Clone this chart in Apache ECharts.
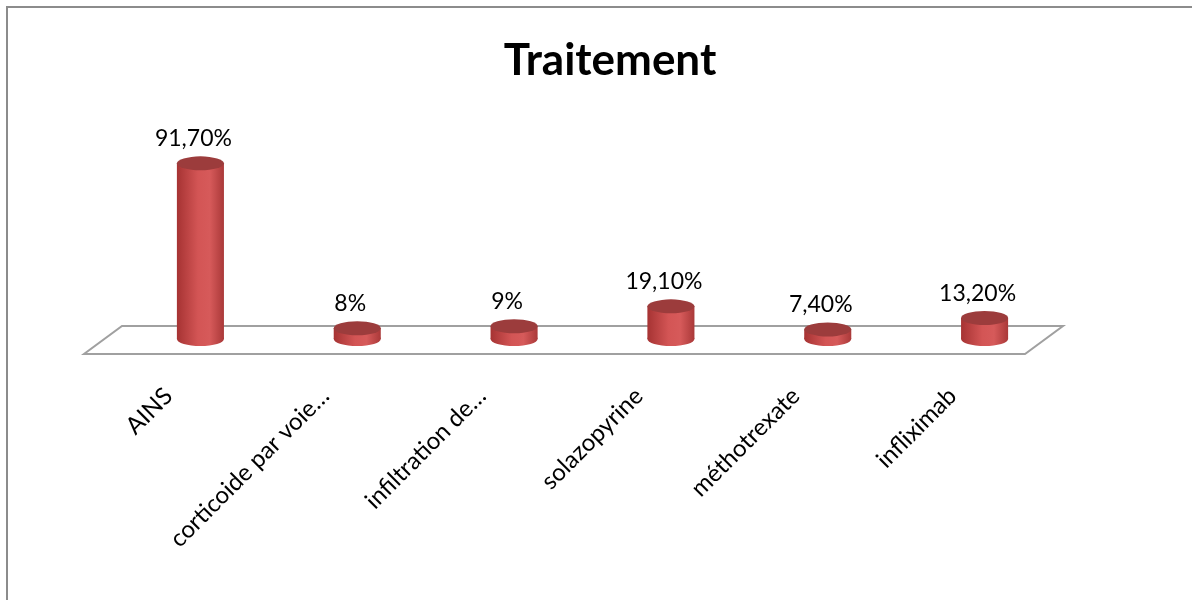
<!DOCTYPE html>
<html>
<head>
<meta charset="utf-8">
<script src="https://cdn.jsdelivr.net/npm/echarts@6/dist/echarts.min.js"></script>
<style>
  html, body { margin: 0; padding: 0; background: #ffffff; overflow: hidden; }
  #chart { width: 1192px; height: 600px; }
</style>
</head>
<body>
<div id="chart"></div>
<script>
// Treatments and share of patients (%)
const categories = ['AINS', 'corticoide par voie…', 'infiltration de…', 'solazopyrine', 'méthotrexate', 'infliximab'];
const values = [91.7, 8, 9, 19.1, 7.4, 13.2];
const titleText = 'Traitement';

const FONT = 'Lato, "Liberation Sans", sans-serif';

// Percent label in French notation: whole numbers plain, others with two decimals
function fmt(v) {
  return Number.isInteger(v) ? v + '%' : v.toFixed(2).replace('.', ',') + '%';
}

// Depth of the pseudo-3D floor, in pixels
const FLOOR_BACK = 18;   // back edge above the zero line
const FLOOR_FRONT = 10;  // front edge below the zero line
const FLOOR_SHIFT = 38;  // front edge shifted left
const BASE_LIFT = 5;     // cylinder base centre above the zero line

const chart = echarts.init(document.getElementById('chart'), null, { renderer: 'canvas' });

const bodyGradient = new echarts.graphic.LinearGradient(0, 0, 1, 0, [
  { offset: 0, color: '#a63333' },
  { offset: 0.45, color: '#d35555' },
  { offset: 0.7, color: '#d65a5a' },
  { offset: 1, color: '#aa3939' }
]);

function ellipse(cx, cy, rx, ry, fill, z2) {
  return {
    type: 'circle',
    x: cx, y: cy, scaleY: ry / rx,
    shape: { cx: 0, cy: 0, r: rx },
    style: { fill: fill },
    z2: z2
  };
}

const option = {
  backgroundColor: '#ffffff',
  animation: false,
  title: {
    text: titleText,
    left: 605,
    textAlign: 'center',
    top: 34,
    textStyle: { fontFamily: FONT, fontWeight: 'bold', fontSize: 44, color: '#000000' }
  },
  graphic: [{
    // chart-area frame: left and top edges
    type: 'polyline',
    shape: { points: [[7, 600], [7, 7], [1192, 7]] },
    style: { fill: null, stroke: '#8c8c8c', lineWidth: 2 },
    silent: true
  }],
  grid: [
    { left: 122, right: 129, top: 147, bottom: 256 },
    { left: 90, right: 161, top: 147, bottom: 246 }
  ],
  xAxis: [
    {
      type: 'category', data: categories, gridIndex: 0,
      axisLine: { show: false }, axisTick: { show: false }, axisLabel: { show: false }
    },
    {
      type: 'category', data: categories, gridIndex: 1,
      axisLine: { show: false }, axisTick: { show: false },
      axisLabel: {
        rotate: 45, margin: 38, interval: 0,
        fontFamily: FONT, fontSize: 24, color: '#000000'
      }
    }
  ],
  yAxis: [
    { type: 'value', min: 0, max: 100, gridIndex: 0, show: false },
    { type: 'value', min: 0, max: 100, gridIndex: 1, show: false }
  ],
  series: [
    {
      // floor of the 3D plot area
      type: 'custom',
      xAxisIndex: 0, yAxisIndex: 0,
      data: [[0, 0]],
      z: 1,
      silent: true,
      renderItem: function (params, api) {
        const band = api.size([1, 0])[0];
        const first = api.coord([0, 0]);
        const last = api.coord([categories.length - 1, 0]);
        const x0 = first[0] - band / 2;
        const x1 = last[0] + band / 2;
        const yb = first[1] - FLOOR_BACK;
        const yf = first[1] + FLOOR_FRONT;
        return {
          type: 'polygon',
          shape: { points: [[x0, yb], [x1, yb], [x1 - FLOOR_SHIFT, yf], [x0 - FLOOR_SHIFT, yf]] },
          style: { fill: '#ffffff', stroke: '#a0a0a0', lineWidth: 2 }
        };
      }
    },
    {
      // cylinders
      type: 'custom',
      xAxisIndex: 0, yAxisIndex: 0,
      data: values.map((v, i) => [i, v]),
      z: 2,
      renderItem: function (params, api) {
        const i = api.value(0);
        const v = api.value(1);
        const band = api.size([1, 0])[0];
        const top = api.coord([i, v]);
        const zero = api.coord([i, 0]);
        const rx = band * 0.15;
        const ry = 7;
        const cx = top[0];
        const yBase = zero[1] - BASE_LIFT;
        const yTop = Math.min(top[1], yBase - 2);
        return {
          type: 'group',
          children: [
            ellipse(cx, yBase, rx, ry, bodyGradient, 1),
            {
              type: 'rect',
              shape: { x: cx - rx, y: yTop, width: rx * 2, height: yBase - yTop },
              style: { fill: bodyGradient },
              z2: 2
            },
            ellipse(cx, yTop, rx, ry, '#9c3c3c', 3),
            {
              type: 'text',
              x: cx - 7,
              y: yTop - ry - 6,
              style: {
                text: fmt(v),
                fontFamily: FONT, fontSize: 23, fill: '#000000',
                align: 'center', verticalAlign: 'bottom'
              },
              z2: 4
            }
          ]
        };
      }
    }
  ]
};

chart.setOption(option);
</script>
</body>
</html>
